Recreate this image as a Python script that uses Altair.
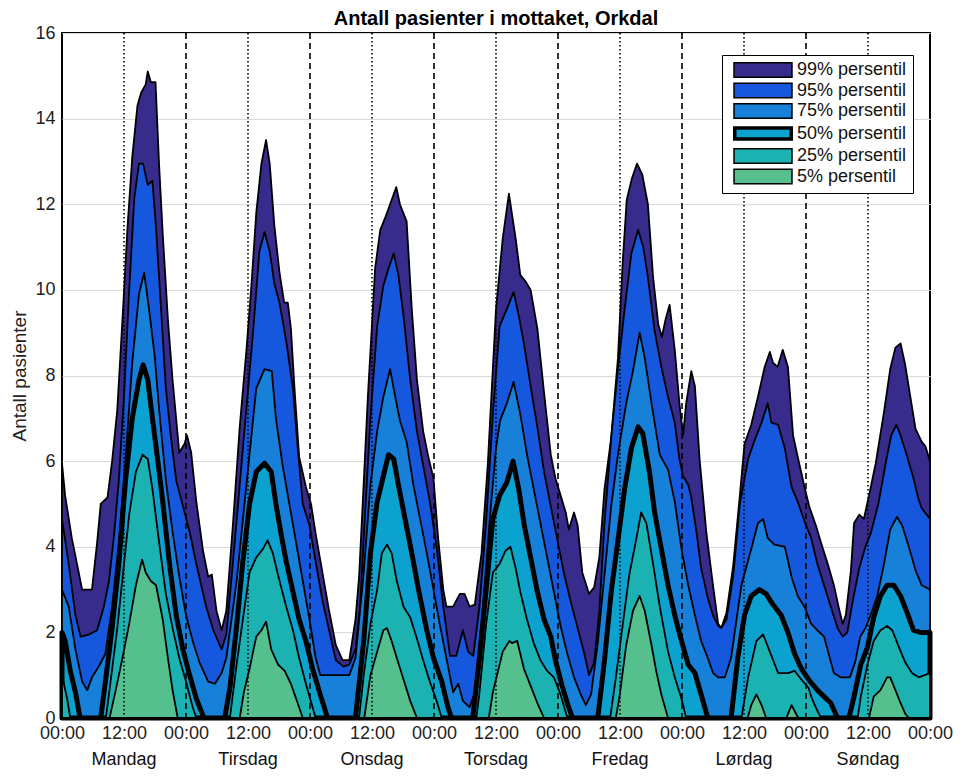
import altair as alt
import pandas as pd

# ---- data: (hour of week, number of patients) for each percentile ----
Q99 = [(0,5.95),(0.6,5.2),(1.9,4.2),(2.9,3.6),(3.9,3.0),(5.8,3.0),(6.8,4.1),(7.5,5.0),(8.8,5.15),(9.7,6.0),(10.7,7.2),(11.7,9.3),(12.7,11.5),(13.6,13.1),(14.6,14.3),(15.3,14.6),(16.2,14.8),(16.6,15.1),(17.2,14.85),(18.1,14.85),(18.8,12.9),(19.5,11.3),(20.5,9.3),(21.4,7.9),(22.7,6.2),(23.7,6.4),(24.2,6.6),(25.0,6.2),(26.0,5.05),(27.3,3.9),(28.3,3.3),(29.0,3.35),(29.9,2.5),(30.9,2.05),(31.8,2.5),(33.1,4.55),(34.4,6.8),(35.7,8.6),(36.6,10.0),(37.6,11.8),(38.6,12.95),(39.5,13.5),(40.2,12.95),(41.1,11.5),(42.1,10.4),(43.0,9.7),(43.7,9.7),(44.3,9.1),(45.0,7.7),(45.9,6.1),(47.2,5.4),(48.2,5.0),(49.1,4.3),(50.4,3.4),(51.7,2.5),(53.0,1.7),(54.3,1.35),(55.6,1.35),(56.8,2.3),(57.5,3.3),(58.4,5.5),(59.2,7.5),(60.0,9.2),(60.6,10.5),(61.6,11.4),(62.6,11.7),(63.5,12.0),(64.7,12.4),(65.4,12.0),(66.7,11.6),(67.7,9.55),(68.7,7.9),(69.9,6.7),(70.9,6.1),(71.9,5.6),(72.8,4.2),(73.8,3.0),(74.4,2.6),(75.7,2.6),(77.0,2.9),(77.9,2.9),(78.9,2.6),(79.9,2.65),(81.2,3.85),(82.4,5.9),(84.0,9.55),(85.3,11.2),(86.5,12.25),(87.8,11.2),(88.7,10.35),(89.7,10.2),(90.7,10.0),(92.0,9.1),(93.3,7.6),(94.6,6.15),(95.5,5.6),(96.5,5.2),(97.5,4.8),(98.1,4.4),(99.1,4.8),(99.8,4.5),(100.7,3.4),(102.0,2.9),(103.0,3.05),(104.0,3.75),(105.0,5.35),(106.3,6.55),(107.6,8.4),(108.5,10.6),(109.3,12.1),(110.3,12.6),(111.3,12.95),(112.3,12.7),(113.4,12.0),(114.4,10.3),(115.4,9.2),(116.1,8.9),(116.8,9.3),(117.6,9.65),(118.6,8.6),(119.5,7.35),(120.2,6.6),(120.8,7.35),(121.8,8.1),(122.5,7.75),(123.4,6.05),(124.7,4.35),(126.0,3.1),(127.0,2.2),(127.6,2.1),(128.6,2.45),(129.9,3.55),(131.2,5.2),(132.1,6.4),(133.4,6.85),(134.7,7.5),(136.0,8.2),(137.0,8.55),(137.6,8.3),(138.5,8.2),(139.5,8.6),(140.5,8.2),(141.5,6.6),(142.4,6.1),(143.7,5.4),(144.6,4.95),(145.9,4.5),(146.9,4.1),(148.2,3.6),(149.4,3.1),(150.4,2.55),(151.1,2.2),(151.7,2.4),(152.7,3.45),(153.3,4.55),(154.3,4.75),(155.2,4.65),(156.2,5.2),(157.5,5.95),(159.1,7.15),(160.3,8.15),(161.3,8.65),(162.3,8.75),(163.2,8.25),(164.2,7.5),(165.2,6.75),(165.8,6.6),(166.4,6.45),(167.1,6.35),(168.0,6.0)]

Q95 = [(0,4.65),(1.3,3.6),(2.6,2.4),(3.6,1.9),(5.2,1.95),(6.8,2.05),(8.1,2.6),(9.1,3.2),(10.1,4.3),(11.0,5.55),(12.0,7.5),(13.0,10.0),(14.0,12.15),(14.9,12.95),(15.7,12.95),(16.6,12.45),(17.5,12.55),(18.2,11.45),(19.2,9.5),(20.1,7.7),(21.1,6.55),(22.1,5.55),(23.4,4.95),(24.7,4.35),(26.0,3.6),(27.9,2.6),(29.3,2.05),(30.9,1.6),(31.8,1.95),(33.1,3.65),(34.4,5.45),(35.7,7.25),(37.0,9.05),(38.2,10.9),(39.2,11.35),(40.2,10.9),(41.1,10.15),(42.1,9.7),(43.4,8.8),(44.7,7.7),(45.6,6.35),(46.6,5.0),(47.9,4.5),(49.1,3.65),(50.4,2.75),(51.7,2.05),(53.0,1.35),(54.5,1.2),(55.6,1.25),(56.8,1.6),(57.7,2.6),(58.4,4.2),(59.7,7.0),(61.0,9.15),(62.2,10.1),(63.2,10.5),(64.2,10.85),(65.1,10.35),(66.1,9.4),(67.4,7.9),(68.7,6.7),(69.9,5.9),(71.2,5.05),(72.5,4.0),(73.8,2.6),(75.1,1.45),(76.3,1.45),(77.6,2.05),(78.6,1.55),(79.6,1.45),(80.8,2.6),(82.1,4.6),(83.4,7.1),(84.7,9.15),(86.1,9.55),(87.4,9.95),(88.4,9.4),(89.4,8.75),(90.7,7.75),(92.0,6.8),(93.3,5.75),(94.6,4.95),(95.9,4.15),(97.2,3.35),(98.5,2.7),(99.8,2.1),(101.1,1.5),(102.0,1.0),(103.0,1.3),(104.0,2.5),(105.0,4.55),(106.3,6.55),(107.6,8.15),(108.9,9.55),(110.2,10.85),(111.5,11.4),(112.5,11.0),(113.4,10.3),(114.7,9.05),(116.0,8.2),(117.3,7.5),(118.6,6.9),(119.5,6.05),(120.2,5.65),(121.2,5.45),(121.8,5.15),(122.8,4.35),(123.7,3.5),(125.0,2.8),(126.0,2.4),(127.0,2.15),(127.6,2.1),(128.6,2.3),(129.9,3.3),(131.2,5.0),(132.8,6.05),(134.1,6.5),(135.4,6.9),(136.6,7.35),(137.3,6.9),(138.6,6.85),(139.9,6.3),(141.2,5.4),(142.4,5.05),(143.7,4.6),(145.0,4.2),(146.2,3.6),(147.5,3.1),(148.8,2.6),(150.1,2.1),(151.1,1.9),(152.0,2.0),(153.0,2.7),(154.3,3.5),(155.5,4.0),(156.5,4.3),(158.0,5.0),(159.5,6.0),(160.5,6.6),(161.5,6.85),(162.3,6.6),(163.6,6.1),(164.8,5.6),(165.8,5.1),(166.4,4.9),(168.0,4.65)]

Q75 = [(0,3.0),(1.3,2.6),(2.6,1.6),(3.9,0.85),(4.9,0.65),(5.8,0.95),(7.1,1.2),(8.4,1.5),(9.7,2.6),(11.0,4.1),(12.3,6.05),(13.6,8.3),(14.9,9.9),(15.9,10.4),(16.9,9.5),(17.9,8.5),(18.8,7.2),(20.1,5.55),(21.4,4.35),(22.7,3.3),(24.0,2.4),(25.3,1.8),(26.6,1.3),(28.3,0.85),(29.6,0.8),(30.9,1.05),(31.8,1.4),(33.8,3.2),(35.7,5.45),(37.6,7.7),(39.2,8.15),(40.6,8.1),(41.4,7.0),(42.7,5.9),(44.0,5.0),(45.3,4.1),(46.6,3.2),(47.9,2.3),(49.1,1.4),(50.0,1.0),(55.6,1.0),(56.8,1.4),(58.4,3.4),(59.7,5.45),(61.0,6.7),(62.2,7.5),(63.5,8.15),(64.5,7.5),(65.4,6.95),(66.7,6.45),(68.0,5.45),(69.3,4.65),(70.6,3.85),(71.9,3.0),(73.1,2.2),(74.4,1.4),(75.7,0.6),(76.7,0.8),(77.6,0.4),(78.9,0.25),(79.9,0.6),(81.5,2.6),(82.8,4.65),(84.0,6.3),(84.8,6.95),(86.1,7.35),(87.4,7.85),(88.7,7.1),(90.0,6.15),(91.3,5.35),(92.6,4.55),(93.9,3.75),(95.2,2.95),(96.5,2.15),(97.8,1.5),(99.1,0.95),(100.4,0.55),(101.4,0.3),(102.4,0.55),(103.7,1.75),(105.0,3.35),(106.3,4.95),(107.6,6.15),(109.2,7.35),(110.5,8.1),(111.8,9.0),(112.8,8.4),(114.1,7.35),(115.7,6.15),(117.3,5.8),(118.6,5.05),(119.9,3.95),(121.2,3.1),(122.5,2.4),(123.7,1.8),(125.0,1.4),(126.0,1.05),(127.0,0.95),(128.3,0.95),(129.5,1.4),(130.5,2.25),(131.5,3.1),(133.4,3.95),(134.7,4.55),(135.7,4.65),(136.6,4.2),(137.9,4.05),(139.9,4.0),(141.2,3.3),(142.4,2.85),(143.7,2.6),(145.0,2.2),(146.2,2.05),(147.5,1.9),(148.5,1.45),(149.4,1.05),(150.7,0.95),(152.5,0.95),(153.5,1.3),(154.5,1.9),(155.5,2.1),(156.5,2.4),(157.8,2.85),(159.1,3.6),(160.3,4.4),(161.6,4.7),(162.6,4.5),(163.9,4.0),(165.2,3.45),(166.4,3.1),(168.0,3.0)]

Q50 = [(0,2.0),(0.6,1.8),(1.6,1.1),(2.6,0.6),(3.5,0),(7.5,0),(8.4,0.85),(9.7,2.1),(11.0,3.6),(12.3,5.55),(13.6,7.0),(14.9,7.9),(15.7,8.25),(16.6,7.9),(17.5,7.0),(18.5,6.05),(19.5,5.05),(20.8,3.6),(22.1,2.4),(23.4,1.6),(24.7,1.0),(26.0,0.45),(27.3,0.05),(27.5,0),(31.5,0),(32.5,0.7),(33.8,2.15),(35.0,3.65),(36.3,5.0),(37.6,5.75),(39.2,5.95),(40.5,5.75),(41.4,5.0),(42.4,4.3),(43.4,3.65),(44.7,2.95),(45.9,2.3),(47.2,1.8),(48.5,1.15),(50.1,0.5),(51.4,0),(56.8,0),(58.4,1.8),(59.7,3.85),(61.0,5.05),(62.2,5.65),(63.2,6.15),(64.2,6.05),(65.1,5.45),(66.4,4.65),(67.7,3.85),(69.0,3.0),(70.6,2.05),(71.9,1.4),(73.5,0.85),(74.7,0.25),(75.4,0),(79.5,0),(80.8,1.4),(82.1,3.0),(83.4,4.65),(84.7,5.2),(86.1,5.5),(87.3,6.0),(88.4,5.35),(89.4,4.55),(90.7,3.75),(92.0,2.95),(93.3,2.3),(94.6,1.9),(95.5,1.35),(96.8,0.75),(97.8,0.35),(98.8,0),(103.7,0),(105.0,1.35),(106.3,2.95),(107.6,4.15),(108.9,5.35),(110.2,6.3),(111.5,6.8),(112.4,6.65),(113.7,5.75),(114.7,4.8),(116.0,3.95),(117.3,3.1),(118.6,2.4),(119.9,1.8),(121.2,1.25),(122.5,1.05),(123.7,0.55),(125.0,0),(129.5,0),(130.8,1.4),(132.1,2.4),(133.4,2.85),(135.0,3.0),(136.3,2.9),(137.6,2.65),(139.2,2.4),(140.5,2.0),(141.8,1.5),(143.1,1.15),(144.5,0.9),(146.2,0.65),(147.5,0.5),(148.8,0.35),(150.1,0),(152.3,0),(153.3,0.5),(154.6,1.25),(155.9,1.65),(157.1,2.35),(158.4,2.85),(159.7,3.1),(161.0,3.1),(162.3,2.85),(163.6,2.45),(164.8,2.05),(166.1,2.0),(168.0,2.0)]

Q25 = [(0,1.0),(1.0,0.45),(1.6,0),(8.5,0),(9.4,0.85),(10.7,2.1),(12.0,3.6),(13.0,4.75),(14.3,5.75),(15.6,6.15),(16.6,6.05),(17.5,5.35),(18.8,4.1),(20.1,2.9),(21.4,2.1),(22.7,1.4),(24.0,0.85),(25.3,0.25),(26.0,0),(32.5,0),(33.8,1.25),(35.0,2.3),(36.3,3.4),(37.6,3.75),(38.9,3.95),(39.8,4.15),(40.8,3.85),(42.1,3.2),(43.4,2.6),(44.7,2.05),(45.9,1.4),(47.2,0.8),(48.5,0.25),(49.1,0),(57.5,0),(58.4,1.0),(59.7,2.2),(61.0,3.0),(61.9,3.85),(62.9,4.05),(63.8,3.85),(64.8,3.2),(66.1,2.6),(67.4,2.35),(68.7,1.85),(69.9,1.35),(71.2,0.85),(72.5,0.4),(73.5,0),(80.2,0),(80.8,0.6),(82.1,2.2),(83.4,3.4),(84.7,3.6),(85.8,3.9),(86.8,4.0),(87.8,3.5),(88.7,2.95),(90.0,2.3),(91.3,1.75),(92.6,1.35),(93.9,1.1),(95.2,0.95),(96.5,0.55),(97.8,0),(106.1,0),(107.2,0.95),(108.5,2.15),(109.8,3.35),(111.1,4.15),(112.1,4.8),(113.1,4.55),(114.4,3.6),(115.7,2.6),(117.3,1.55),(118.6,0.95),(119.9,0.45),(120.8,0),(131.5,0),(132.8,0.95),(134.4,1.8),(135.7,1.95),(137.0,1.55),(138.6,1.05),(140.5,1.05),(141.8,1.1),(143.1,0.9),(144.5,0.7),(145.0,0.5),(145.9,0.25),(146.9,0),(154.0,0),(154.6,0.5),(155.9,1.25),(157.1,1.8),(158.4,2.05),(159.7,2.15),(160.7,2.05),(162.0,1.65),(163.2,1.3),(164.5,1.05),(165.8,0.95),(168.0,1.05)]

Q5 = [(0,0),(9.2,0),(10.4,0.65),(11.7,1.4),(13.0,2.2),(14.3,3.1),(15.5,3.7),(16.2,3.4),(17.2,3.2),(18.2,3.1),(19.5,2.3),(20.5,1.4),(21.4,0.65),(22.4,0),(34.4,0),(35.2,0.6),(36.3,1.15),(37.6,1.9),(38.6,2.05),(39.5,2.25),(40.5,1.6),(41.8,1.25),(43.1,1.1),(44.3,0.8),(45.6,0.35),(46.6,0),(58.5,0),(59.7,1.0),(61.0,1.55),(62.2,2.05),(62.9,2.1),(63.8,1.8),(64.8,1.4),(66.1,0.9),(67.4,0.4),(68.7,0),(82.6,0),(83.4,0.6),(85.3,1.55),(86.6,1.8),(87.1,1.75),(88.1,1.8),(89.4,1.15),(90.7,0.75),(92.0,0.35),(93.3,0),(107.2,0),(107.9,0.5),(109.2,1.7),(110.5,2.5),(111.8,2.85),(112.8,2.5),(114.1,1.7),(115.0,1.1),(116.0,0.55),(117.3,0),(132.7,0),(133.4,0.3),(134.4,0.55),(135.4,0.3),(136.3,0),(140.2,0),(141.2,0.3),(142.5,0),(156.2,0),(157.1,0.5),(158.4,0.65),(159.7,0.95),(160.3,0.95),(161.3,0.65),(162.3,0.35),(163.2,0.1),(163.9,0),(168.0,0)]

SERIES = ["99% persentil", "95% persentil", "75% persentil", "50% persentil", "25% persentil", "5% persentil"]
COLORS = ["#372b8c", "#1557dd", "#1780d8", "#0ba2d0", "#1cb2b2", "#55c08e"]
EDGE_WIDTHS = [1.8, 1.8, 1.8, 5.0, 1.8, 1.8]
DATA = [Q99, Q95, Q75, Q50, Q25, Q5]

NOON_HOURS = [12, 36, 60, 84, 108, 132, 156]
MIDNIGHT_HOURS = [24, 48, 72, 96, 120, 144]
DAYS = ["Mandag", "Tirsdag", "Onsdag", "Torsdag", "Fredag", "Lørdag", "Søndag"]

W, H = 868, 685
FONT = "Liberation Sans"

x_scale = alt.Scale(domain=[0, 168], nice=False, zero=False)
y_scale = alt.Scale(domain=[0, 16], nice=False)
fill_scale = alt.Scale(domain=SERIES, range=COLORS)

x_axis = alt.Axis(values=list(range(0, 169, 12)),
                  labelExpr="datum.value % 24 == 0 ? '00:00' : '12:00'",
                  grid=False, ticks=False, domain=False, title=None,
                  labelFontSize=18, labelFont=FONT, labelColor="#222222",
                  labelPadding=6, labelFlush=False, labelOverlap=False)
y_axis = alt.Axis(values=list(range(0, 17, 2)), grid=True, gridColor="#d9d9d9",
                  gridWidth=1.2, ticks=False, domain=False,
                  title="Antall pasienter", titleFontSize=19, titleFont=FONT,
                  titleFontWeight="normal", titleColor="#222222", titlePadding=5,
                  labelFontSize=18, labelFont=FONT, labelColor="#222222",
                  labelPadding=7)

MID = "datum.value == '50% persentil'"
legend = alt.Legend(title=None, orient="none", legendX=660, legendY=22,
                    fillColor="white", strokeColor="black", padding=6,
                    symbolType={"expr": MID + " ? 'M-3.9,-0.75H3.9V0.75H-3.9Z' : 'M-4,-1H4V1H-4Z'"},
                    symbolSize=210, symbolOffset=26, labelOffset=25,
                    symbolStrokeColor="black",
                    symbolStrokeWidth={"expr": MID + " ? 3.5 : 1.5"},
                    labelFontSize=18, labelFont=FONT, labelColor="#111111",
                    rowPadding=-1.5, labelLimit=300)

layers = []
for name, pts, w in zip(SERIES, DATA, EDGE_WIDTHS):
    df = pd.DataFrame({"hour": [p[0] for p in pts],
                       "value": [p[1] for p in pts],
                       "series": name})
    layers.append(
        alt.Chart(df).mark_area(stroke="black", strokeWidth=w, strokeJoin="round",
                                interpolate="linear").encode(
            x=alt.X("hour:Q", scale=x_scale, axis=x_axis),
            y=alt.Y("value:Q", scale=y_scale, axis=y_axis),
            fill=alt.Fill("series:N", scale=fill_scale, legend=legend),
        )
    )

noon = alt.Chart(pd.DataFrame({"hour": NOON_HOURS})).mark_rule(
    color="black", strokeWidth=1.6, strokeDash=[1.5, 2.5]).encode(x=alt.X("hour:Q", scale=x_scale))
midnight = alt.Chart(pd.DataFrame({"hour": MIDNIGHT_HOURS})).mark_rule(
    color="black", strokeWidth=1.6, strokeDash=[6, 4]).encode(x=alt.X("hour:Q", scale=x_scale))
days = alt.Chart(pd.DataFrame({"hour": NOON_HOURS, "day": DAYS})).mark_text(
    fontSize=18, font=FONT, color="#111111", baseline="middle").encode(
    x=alt.X("hour:Q", scale=x_scale), y=alt.value(H + 42), text="day:N")

chart = alt.layer(*layers, noon, midnight, days).properties(
    width=W, height=H,
    title=alt.TitleParams("Antall pasienter i mottaket, Orkdal", fontSize=20, font=FONT,
                          fontWeight="bold", color="black", offset=7, dy=12,
                          anchor="middle", frame="group"),
    autosize=alt.AutoSizeParams(type="none"),
    padding={"left": 54, "top": 25, "right": 28, "bottom": 60},
).configure_view(stroke="black", strokeWidth=2)

chart.save("out.html", embed_options={"renderer": "svg", "actions": False})
